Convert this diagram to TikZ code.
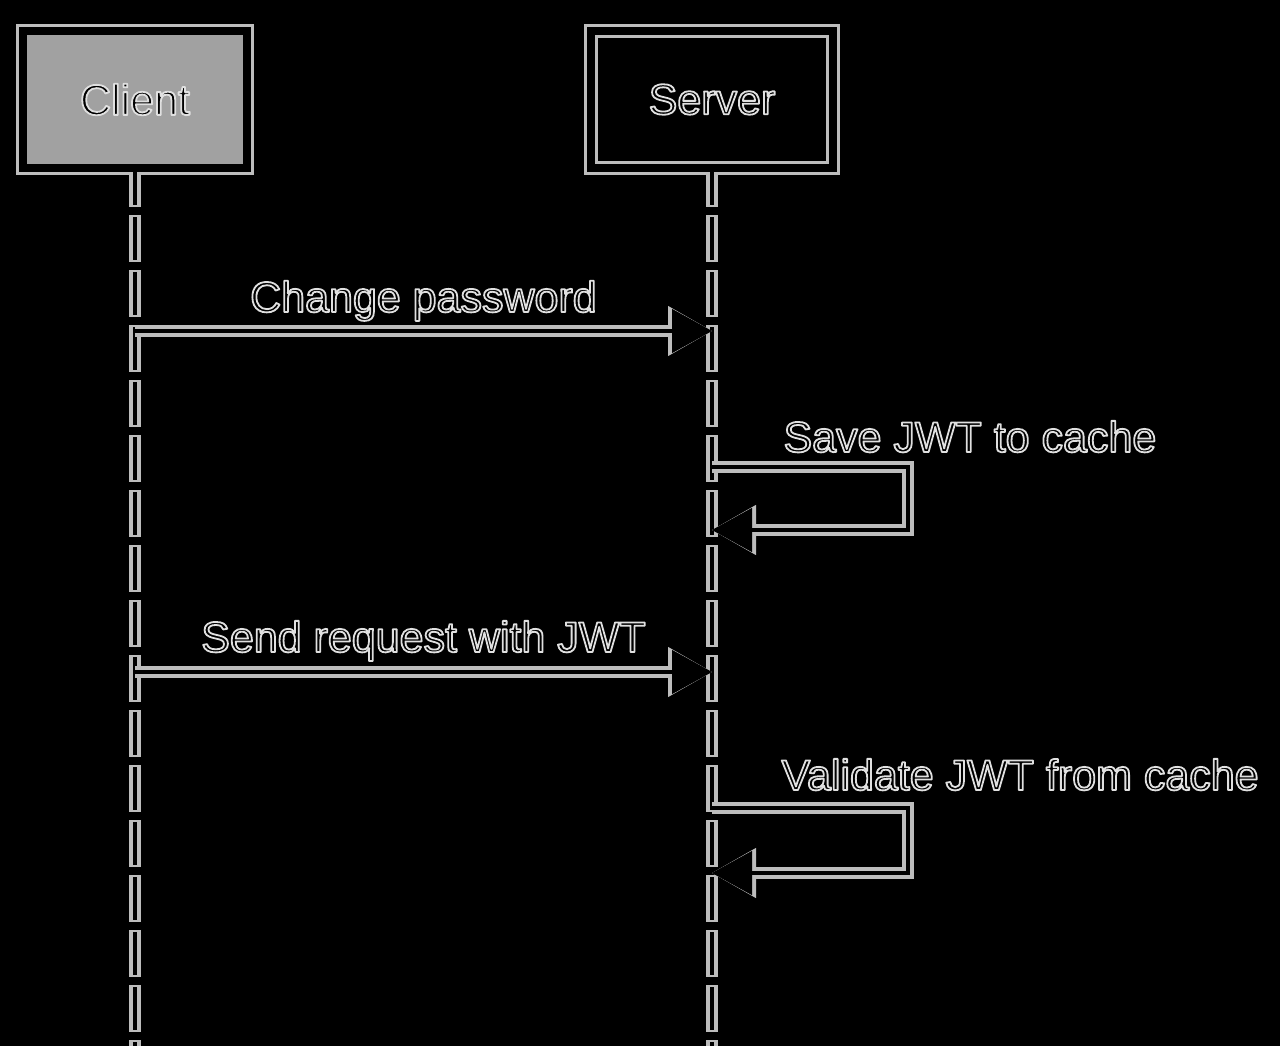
\documentclass[tikz,border=0pt]{standalone}
\usepackage{fontspec}
\setmainfont{Liberation Sans}
\usetikzlibrary{arrows.meta}
\definecolor{halo}{gray}{0.74}
\definecolor{boxfill}{gray}{0.63}
% outlined glyphs: black fill, light stroke
\newcommand{\lbl}[1]{\special{pdf:literal direct 2 Tr 1.8 w 1 j 0.88 G}#1\special{pdf:literal direct 0 Tr}}

\begin{document}
\begin{tikzpicture}[x=1pt,y=-1pt,font=\fontsize{43}{50}\selectfont,
  actor/.style={draw=black,line width=8pt,minimum height=137pt,
    preaction={draw=halo,line width=14pt}},
  lifeline/.style={draw=black,line width=4pt,dash pattern=on 43pt off 12pt,dash phase=10pt,
    preaction={draw=halo,line width=12pt,dash pattern=on 47pt off 8pt,dash phase=12pt}},
  msg/.style={draw=black,line width=4pt,line join=miter,
    -{Triangle[length=40pt,width=44pt,line width=1pt]},
    preaction={draw=halo,line width=12pt,-{Triangle[length=44pt,width=50pt,line width=1pt]}}}]
\fill[black] (0,0) rectangle (1280,1046);
\useasboundingbox (0,0) rectangle (1280,1046);

\node (client) at (135,99.5) [actor,fill=boxfill,minimum width=224pt]{\lbl{Client}};
\node (server) at (712,99.5) [actor,minimum width=242pt]{\lbl{Server}};

\coordinate (cEnd) at (135,1046);
\coordinate (sEnd) at (712,1046);
\draw[lifeline] (client.south) -- (cEnd);
\draw[lifeline] (server.south) -- (sEnd);

% change password
\coordinate (c1) at (135,331);
\coordinate (s1) at (712,331);
\draw[msg] (c1) -- (s1);
\node (m1) at (423.5,312) [anchor=base]{\lbl{Change password}};

% save to cache
\coordinate (s2) at (712,467);
\coordinate (t2) at (908,467);
\coordinate (s3) at (712,530);
\draw[msg] (s2) -- (t2) |- (s3);
\node (m2) at (780,452) [anchor=base west]{\lbl{Save JWT to cache}};

% request with token
\coordinate (c4) at (135,672);
\coordinate (s4) at (712,672);
\draw[msg] (c4) -- (s4);
\node (m3) at (423.5,652) [anchor=base]{\lbl{Send request with JWT}};

% validate from cache
\coordinate (s5) at (712,808);
\coordinate (t5) at (908,808);
\coordinate (s6) at (712,873);
\draw[msg] (s5) -- (t5) |- (s6);
\node (m4) at (778,790) [anchor=base west]{\lbl{Validate JWT from cache}};

\end{tikzpicture}
\end{document}
